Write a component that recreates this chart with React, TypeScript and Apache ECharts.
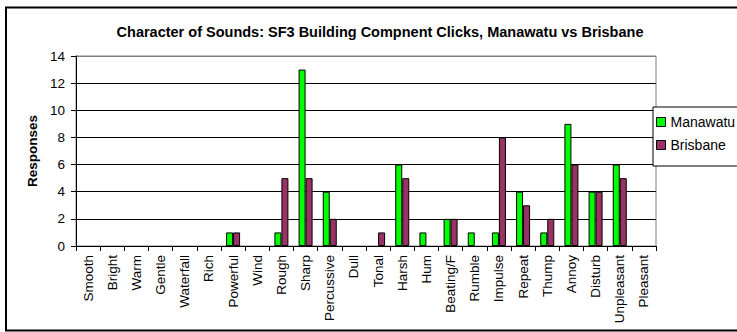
import React, { useEffect, useRef } from "react";
import * as echarts from "echarts";

const categories = ["Smooth","Bright","Warm","Gentle","Waterfall","Rich","Powerful","Wind","Rough","Sharp","Percussive","Dull","Tonal","Harsh","Hum","Beating/F","Rumble","Impulse","Repeat","Thump","Annoy","Disturb","Unpleasant","Pleasant"];
const manawatu = [0,0,0,0,0,0,1,0,1,13,4,0,0,6,1,2,1,1,4,1,9,4,6,0];
const brisbane = [0,0,0,0,0,0,1,0,5,5,2,0,1,5,0,2,0,8,3,2,6,4,5,0];
const yTicks = { min: 0, max: 14, interval: 2 };

const noZero = (arr: number[]) => arr.map((v) => (v === 0 ? null : v));

export default function App() {
  const ref = useRef<HTMLDivElement>(null);
  useEffect(() => {
    document.body.style.margin = "0";
    const chart = echarts.init(ref.current!, null, { renderer: "svg" });
    const font = "Liberation Sans, Arial, sans-serif";
    const splitColors = ["#000", "#000", "#000", "#000", "#000", "#000", "#000", "#808080"];
    chart.setOption({
      animation: false,
      backgroundColor: "#fff",
      textStyle: { fontFamily: font },
      title: {
        text: "Character of Sounds: SF3 Building Compnent Clicks, Manawatu vs Brisbane",
        left: 375,
        textAlign: "center",
        top: 19,
        textStyle: { fontSize: 14.5, fontWeight: "bold", color: "#000", fontFamily: font },
      },
      graphic: [
        { type: "rect", shape: { x: 6, y: 7.5, width: 740, height: 323 }, style: { fill: "none", stroke: "#000", lineWidth: 2 }, z: 100 },
      ],
      legend: {
        orient: "vertical",
        left: 653,
        top: 107,
        padding: [8, 40, 14, 3],
        borderColor: "#000",
        borderWidth: 1,
        backgroundColor: "#fff",
        itemWidth: 9,
        itemHeight: 9,
        itemGap: 9,
        icon: "rect",
        itemStyle: { borderColor: "#000", borderWidth: 1 },
        textStyle: { fontSize: 14, color: "#000", fontFamily: font },
        data: ["Manawatu", "Brisbane"],
        z: 10,
      },
      grid: { left: 76, top: 56, right: 81, bottom: 86, show: true, borderColor: "#808080", borderWidth: 1 },
      xAxis: {
        type: "category",
        data: categories,
        axisLine: { lineStyle: { color: "#000" } },
        axisTick: { show: true, alignWithLabel: false, length: 5, lineStyle: { color: "#000" } },
        axisLabel: { rotate: 90, fontSize: 13.5, color: "#000", margin: 9, interval: 0, fontFamily: font },
      },
      yAxis: {
        type: "value",
        min: yTicks.min,
        max: yTicks.max,
        interval: yTicks.interval,
        name: "Responses",
        nameLocation: "middle",
        nameGap: 37,
        nameTextStyle: { fontSize: 13.5, fontWeight: "bold", color: "#000", fontFamily: font },
        axisLine: { show: true, lineStyle: { color: "#000" } },
        axisTick: { show: true, length: 5, lineStyle: { color: "#000" } },
        axisLabel: { fontSize: 13.5, color: "#000", margin: 11, fontFamily: font },
        splitLine: { lineStyle: { color: splitColors, width: 1 } },
      },
      series: [
        {
          name: "Manawatu",
          type: "bar",
          data: noZero(manawatu),
          barWidth: 7,
          barGap: "0%",
          itemStyle: { color: "#00ff00", borderColor: "#000", borderWidth: 1 },
        },
        {
          name: "Brisbane",
          type: "bar",
          data: noZero(brisbane),
          barWidth: 7,
          barGap: "0%",
          itemStyle: { color: "#993366", borderColor: "#000", borderWidth: 1 },
        },
      ],
    });
    return () => chart.dispose();
  }, []);
  return <div ref={ref} style={{ position: "fixed", left: 0, top: 0, width: 737, height: 332 }} />;
}
